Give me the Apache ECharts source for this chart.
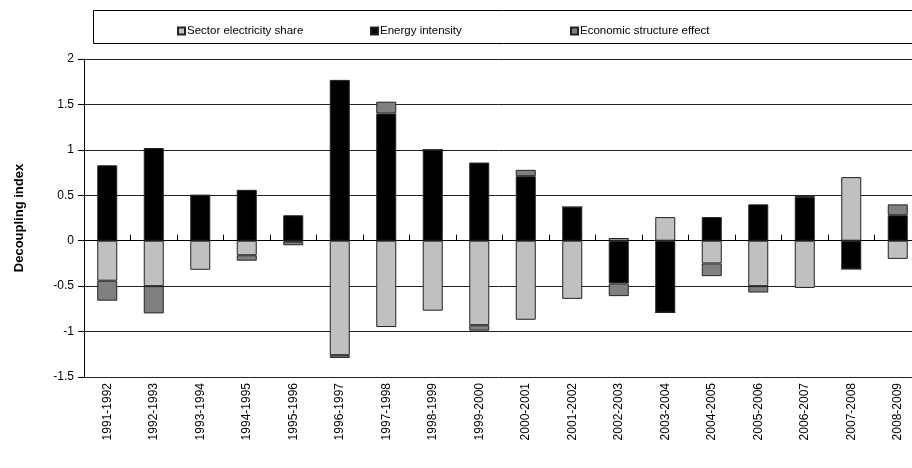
<!DOCTYPE html>
<html>
<head>
<meta charset="utf-8">
<script src="https://cdn.jsdelivr.net/npm/echarts@6/dist/echarts.min.js"></script>
<style>html,body{margin:0;padding:0;background:#fff;}#c{width:912px;height:468px;}</style>
</head>
<body>
<div id="c"></div>
<script>
var categories = ['1991-1992','1992-1993','1993-1994','1994-1995','1995-1996','1996-1997','1997-1998','1998-1999','1999-2000','2000-2001','2001-2002','2002-2003','2003-2004','2004-2005','2005-2006','2006-2007','2007-2008','2008-2009'];
var sectorElectricityShare = [-0.44,-0.50,-0.32,-0.16,-0.01,-1.26,-0.95,-0.77,-0.93,-0.87,-0.64,0.03,0.26,-0.25,-0.50,-0.52,0.70,-0.20];
var energyIntensity        = [0.83,1.02,0.50,0.56,0.28,1.77,1.40,1.00,0.86,0.71,0.37,-0.47,-0.79,0.26,0.40,0.48,-0.31,0.28];
var economicStructure      = [-0.22,-0.30,0,-0.06,-0.04,-0.03,0.13,0,-0.06,0.07,0,-0.14,0,-0.14,-0.07,0.02,0,0.12];
var seriesNames = ['Sector electricity share','Energy intensity','Economic structure effect'];
var yTickLabels = ['-1.5','-1','-0.5','0','0.5','1','1.5','2'];

var FONT = 'Liberation Sans, Arial, sans-serif';
var chart = echarts.init(document.getElementById('c'), null, {renderer:'canvas'});
var colors = ['#c0c0c0','#000000','#808080'];
function legendAt(name, left){
  return {data:[name], left:left, top:20, itemWidth:7, itemHeight:7, icon:'rect', itemGap:0,
    textStyle:{fontFamily:FONT, fontSize:11.5, color:'#000', padding:[0,0,0,-3]}, selectedMode:false};
}
var seriesData = [sectorElectricityShare, energyIntensity, economicStructure];
chart.setOption({
  animation:false,
  graphic:[{type:'rect', shape:{x:93.5,y:10.5,width:830,height:33}, style:{fill:'#fff',stroke:'#000',lineWidth:1}, z:-1}],
  legend:[legendAt(seriesNames[0],172), legendAt(seriesNames[1],365), legendAt(seriesNames[2],565)],
  grid:{left:84, top:59, width:837, height:318, containLabel:false, outerBoundsMode:'none'},
  xAxis:[
    {type:'category', data:categories, position:'bottom',
     axisLine:{show:false, onZero:false}, axisTick:{show:false},
     axisLabel:{rotate:90, margin:6, fontFamily:FONT, fontSize:12, color:'#000', interval:0}},
    {type:'category', data:categories, position:'bottom',
     axisLine:{show:true, onZero:true, lineStyle:{color:'#000', width:1}},
     axisTick:{show:true, inside:true, length:6, interval:0, lineStyle:{color:'#000'}},
     axisLabel:{show:false, interval:0}}
  ],
  yAxis:{type:'value', min:-1.5, max:2, interval:0.5,
    name:'Decoupling index', nameLocation:'middle', nameGap:58, nameRotate:90,
    nameTextStyle:{fontFamily:FONT, fontSize:13, fontWeight:'bold', color:'#000'},
    axisLine:{show:true, lineStyle:{color:'#000', width:1}},
    axisTick:{show:true, length:6, lineStyle:{color:'#000'}},
    axisLabel:{margin:10, fontFamily:FONT, fontSize:12, color:'#000',
      formatter:function(v){ var i = Math.round((v+1.5)/0.5); return yTickLabels[i]; }},
    splitLine:{show:true, lineStyle:{color:'#222', width:1}}
  },
  series: seriesNames.map(function(n,i){
    return {name:n, type:'bar', stack:'total', xAxisIndex:0, barWidth:20, data:seriesData[i],
      itemStyle:{color:colors[i], borderColor:'#222', borderWidth:1}};
  })
});
</script>
</body>
</html>
